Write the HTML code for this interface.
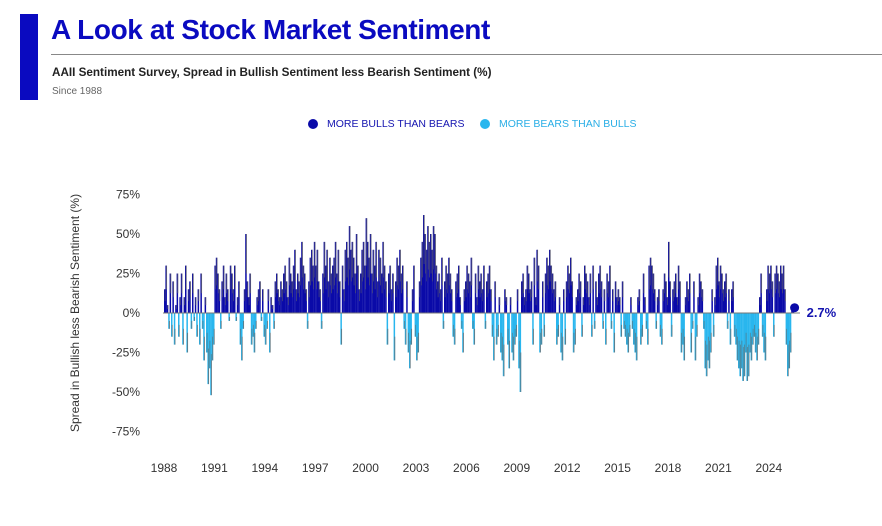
<!DOCTYPE html>
<html><head><meta charset="utf-8"><style>
body{margin:0;background:#fff;width:882px;height:526px;overflow:hidden;font-family:"Liberation Sans",sans-serif;position:relative}
.abs{position:absolute}
</style></head><body>
<div class="abs" style="left:20px;top:14px;width:18px;height:86px;background:#0a0ac0"></div>
<div class="abs" style="left:51px;top:14px;font-size:28px;font-weight:bold;color:#0a0ac0;letter-spacing:-0.4px">A Look at Stock Market Sentiment</div>
<div class="abs" style="left:51px;top:54px;width:831px;height:1px;background:#888"></div>
<div class="abs" style="left:52px;top:66px;font-size:11.7px;font-weight:bold;color:#222">AAII Sentiment Survey, Spread in Bullish Sentiment less Bearish Sentiment (%)</div>
<div class="abs" style="left:52px;top:86px;font-size:10px;color:#666">Since 1988</div>
<div class="abs" style="left:308px;top:118px;font-size:10.5px;color:#1414b0;display:flex;align-items:center"><span style="display:inline-block;width:10px;height:10px;border-radius:50%;background:#0a0aa8;margin-right:9px"></span>MORE BULLS THAN BEARS</div>
<div class="abs" style="left:480px;top:118px;font-size:10.5px;color:#29aee6;display:flex;align-items:center"><span style="display:inline-block;width:10px;height:10px;border-radius:50%;background:#29b6ee;margin-right:9px"></span>MORE BEARS THAN BULLS</div>
<svg class="abs" style="left:0;top:0" width="882" height="526" id="chart">
<text transform="translate(79,313) rotate(-90)" text-anchor="middle" font-size="12" fill="#333">Spread in Bullish less Bearish Sentiment (%)</text>
</svg>
<script>
const yTicks=[75,50,25,0,-25,-50,-75];
const yTickLabels=["75%","50%","25%","0%","-25%","-50%","-75%"];
const xTicks=[1988,1991,1994,1997,2000,2003,2006,2009,2012,2015,2018,2021,2024];
const startYear=1988;
const values=[
15,30,5,-10,25,-15,20,-20,5,25,-15,10,
25,-20,10,30,-25,15,20,-10,25,-5,10,-15,
15,-20,25,-10,-30,10,-25,-45,-35,-52,-30,-20,
30,35,25,15,-10,20,30,10,25,15,-5,30,
25,15,30,-5,10,20,-20,-30,-10,15,50,20,
10,25,-20,-15,-25,-10,10,15,20,-5,15,-15,
-20,-10,15,-25,10,5,-10,20,25,15,10,20,
15,25,30,20,10,35,25,20,30,40,15,25,
20,35,45,30,25,15,-10,20,35,40,30,45,
30,40,20,15,-10,25,45,30,40,20,35,25,
30,35,45,25,40,20,-20,30,15,40,45,35,
55,40,45,35,25,50,30,15,25,40,45,30,
60,45,35,50,25,40,30,45,20,40,35,25,
45,30,20,-20,25,30,15,25,-30,20,35,30,
40,25,30,-10,-20,20,-25,-35,-20,15,30,-15,
-30,-25,20,35,45,62,50,40,55,45,50,40,
55,50,30,20,25,15,35,-10,20,30,25,35,
25,15,-15,-20,20,25,30,10,-10,-25,15,20,
30,25,20,35,-10,-20,25,10,30,20,25,15,
30,-10,20,25,30,15,-15,-30,20,-20,-15,10,
-25,-30,-40,15,10,-20,-35,10,-25,-30,-20,-15,
15,-35,-50,20,25,10,15,30,25,15,20,-20,
35,10,40,30,-25,-20,20,-15,25,35,30,40,
30,25,15,20,-20,-15,10,-25,-30,15,-20,20,
30,25,35,20,-25,-20,10,15,25,20,-15,10,
30,25,20,10,25,-15,30,-10,20,10,25,30,
20,-10,15,-20,25,20,30,-10,15,-25,20,10,
15,10,-15,20,-10,-15,-20,-25,-15,10,-10,-20,
-25,-30,10,15,-20,-15,25,10,-10,-20,30,35,
30,25,15,-10,10,15,-15,-20,15,25,20,10,
45,20,-15,15,20,25,10,30,20,-25,-20,-30,
10,20,15,25,-25,-10,20,-30,-15,10,25,20,
15,-10,-35,-40,-30,-35,-25,15,-15,10,30,35,
20,30,25,15,20,25,-10,15,-20,15,20,-15,
-20,-30,-35,-40,-35,-43,-40,-25,-43,-40,-25,-30,
-20,-15,-25,-30,-20,10,25,-15,-25,-30,15,30,
25,30,20,-15,25,30,25,20,30,25,30,15,
-20,-40,-35,-25,5,2.7];
const latestLabel="2.7%";
const NS="http://www.w3.org/2000/svg";
const svg=document.getElementById('chart');
const yS=v=>313-v*1.58;
const xS=t=>164+(t-startYear)*16.8;
function mk(tag,attrs){const e=document.createElementNS(NS,tag);for(const k in attrs)e.setAttribute(k,attrs[k]);svg.appendChild(e);return e;}
yTicks.forEach((v,i)=>{const t=mk('text',{x:140,y:yS(v)+4,'text-anchor':'end','font-size':12,fill:'#333'});t.textContent=yTickLabels[i];

});
xTicks.forEach(y=>{const t=mk('text',{x:xS(y),y:472,'text-anchor':'middle','font-size':12,fill:'#333'});t.textContent=y;

});
const g=mk('g',{});


values.forEach((v,i)=>{const x=xS(startYear+i/12);const y0=yS(0),y1=yS(v);
const r=document.createElementNS(NS,'rect');
r.setAttribute('x',x);r.setAttribute('width',1.5);
r.setAttribute('y',Math.min(y0,y1));r.setAttribute('height',Math.abs(y1-y0));
r.setAttribute('fill',v>=0?'#0a0aa8':'#29b6ee');


g.appendChild(r);
const tip=document.createElementNS(NS,'line');
const ty=y0+(y1-y0)*0.5;
tip.setAttribute('x1',x+1.2);tip.setAttribute('x2',x+1.2);tip.setAttribute('y1',ty);tip.setAttribute('y2',y1);
tip.setAttribute('stroke','#666');tip.setAttribute('stroke-width',0.9);tip.setAttribute('opacity',0.8);


g.appendChild(tip);});
const zl=mk('line',{x1:163,x2:800,y1:yS(0),y2:yS(0),stroke:'#777','stroke-width':1});


const last=values[values.length-1];const lx=xS(startYear+(values.length-1)/12)+2;
const dot=mk('circle',{cx:lx,cy:yS(last)-1,r:4.5,fill:'#0a0aa8'});


const lab=mk('text',{x:lx+12,y:yS(0)+4,'font-size':13,'font-weight':'bold',fill:'#1414b0'});lab.textContent=latestLabel;


</script>
</body></html>
